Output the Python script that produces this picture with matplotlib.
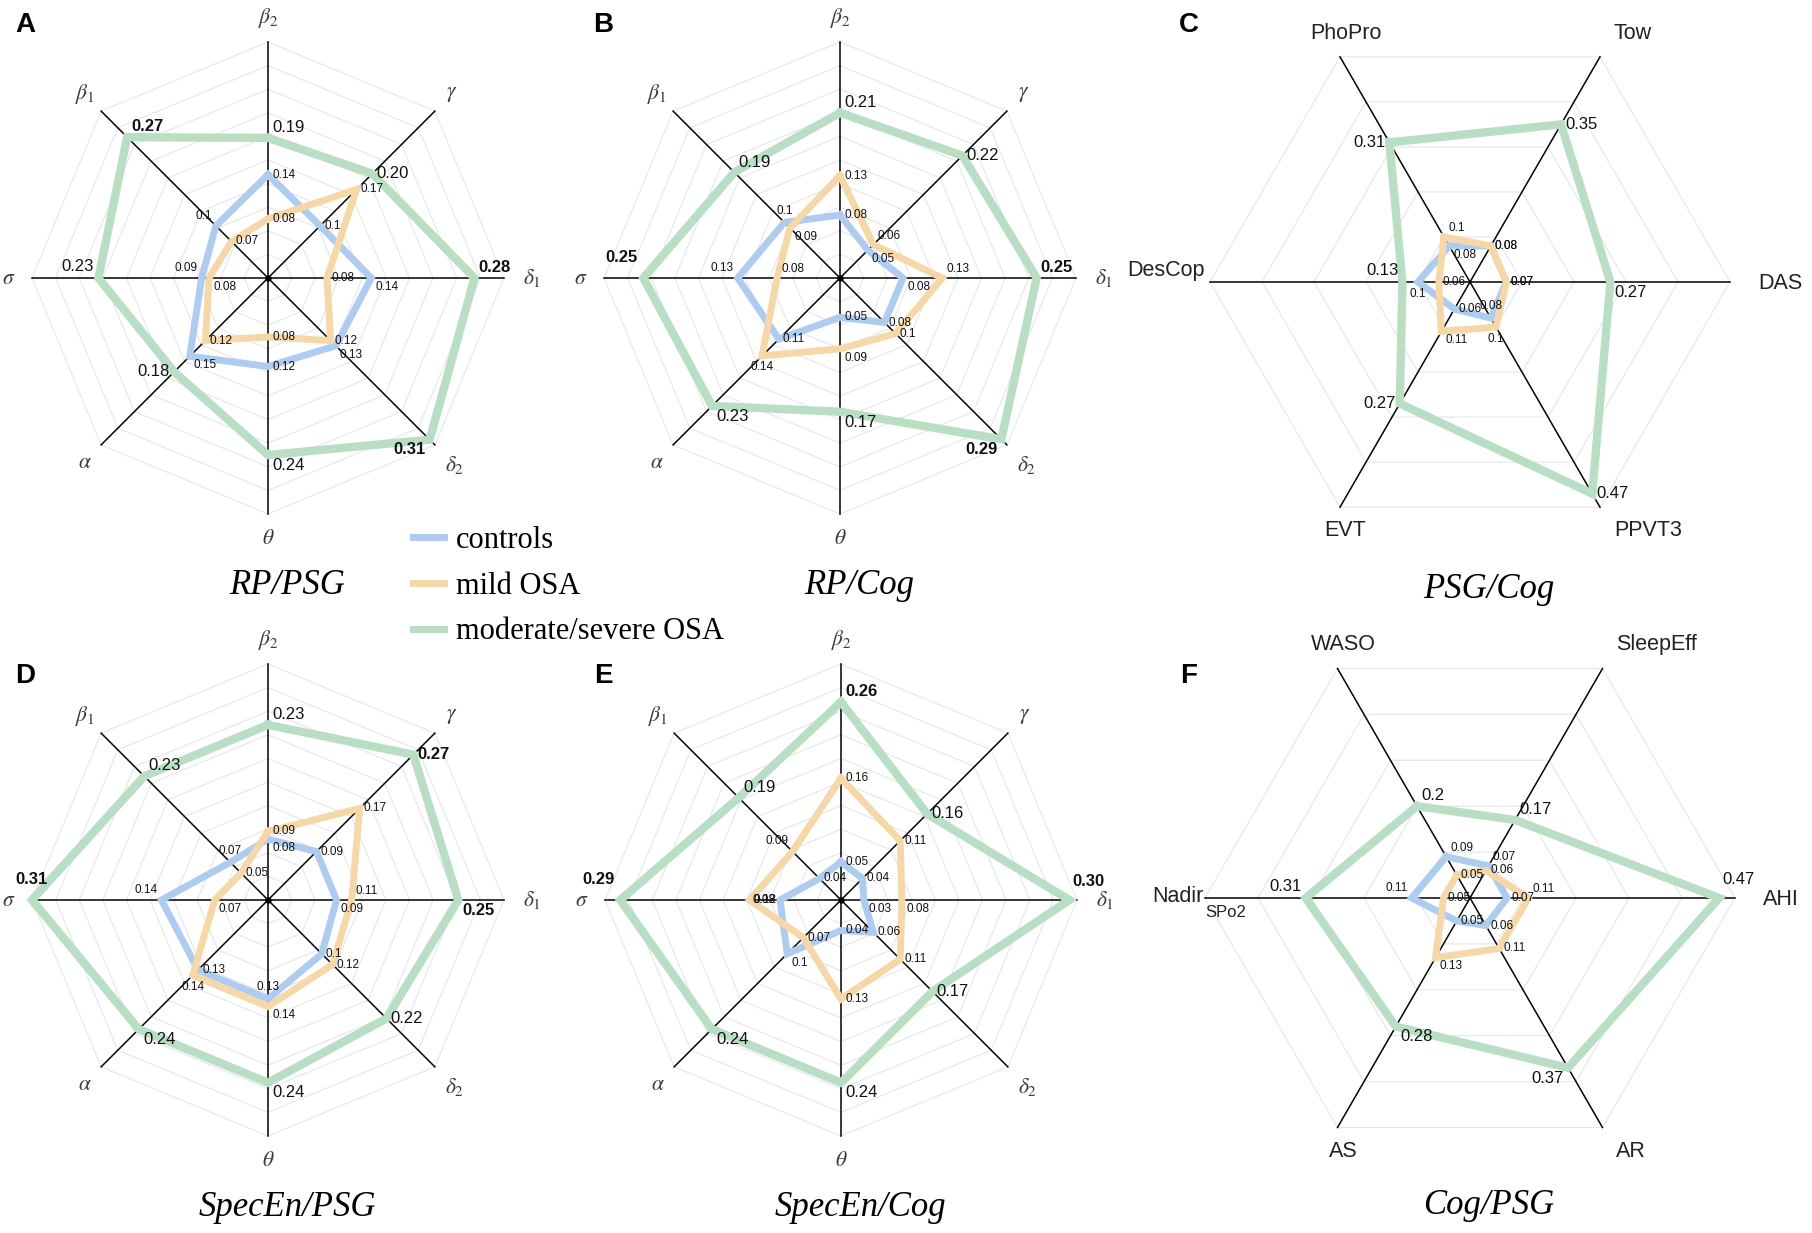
import numpy as np
import matplotlib.pyplot as plt
from matplotlib.lines import Line2D

plt.rcParams['mathtext.fontset'] = 'stix'

W, H = 1812, 1233

# axis names
bands = [r'$\beta_2$', r'$\gamma$', r'$\delta_1$', r'$\delta_2$',
         r'$\theta$', r'$\alpha$', r'$\sigma$', r'$\beta_1$']
psg_cog_names = ['PhoPro', 'Tow', 'DAS', 'PPVT3', 'EVT', 'DesCop']
cog_psg_names = ['WASO', 'SleepEff', 'AHI', 'AR', 'AS', 'Nadir']

groups = ['controls', 'mild OSA', 'moderate/severe OSA']
colors = ['#aecbf0', '#f5d7a8', '#b8dec3']

# A  RP/PSG
a_ctrl = [0.14, 0.10, 0.14, 0.13, 0.12, 0.15, 0.09, 0.10]
a_mild = [0.08, 0.17, 0.08, 0.12, 0.08, 0.12, 0.08, 0.07]
a_sev = [0.19, 0.20, 0.28, 0.31, 0.24, 0.18, 0.23, 0.27]
# B  RP/Cog
b_ctrl = [0.08, 0.05, 0.08, 0.08, 0.05, 0.11, 0.13, 0.10]
b_mild = [0.13, 0.06, 0.13, 0.10, 0.09, 0.14, 0.08, 0.09]
b_sev = [0.21, 0.22, 0.25, 0.29, 0.17, 0.23, 0.25, 0.19]
# C  PSG/Cog
c_ctrl = [0.08, 0.08, 0.07, 0.08, 0.06, 0.10]
c_mild = [0.10, 0.08, 0.07, 0.10, 0.11, 0.06]
c_sev = [0.31, 0.35, 0.27, 0.47, 0.27, 0.13]
# D  SpecEn/PSG
d_ctrl = [0.08, 0.09, 0.09, 0.10, 0.13, 0.13, 0.14, 0.07]
d_mild = [0.09, 0.17, 0.11, 0.12, 0.14, 0.14, 0.07, 0.05]
d_sev = [0.23, 0.27, 0.25, 0.22, 0.24, 0.24, 0.31, 0.23]
# E  SpecEn/Cog
e_ctrl = [0.05, 0.04, 0.03, 0.06, 0.04, 0.10, 0.08, 0.04]
e_mild = [0.16, 0.11, 0.08, 0.11, 0.13, 0.07, 0.12, 0.09]
e_sev = [0.26, 0.16, 0.30, 0.17, 0.24, 0.24, 0.29, 0.19]
# F  Cog/PSG
f_ctrl = [0.09, 0.07, 0.07, 0.06, 0.05, 0.11]
f_mild = [0.05, 0.06, 0.11, 0.11, 0.13, 0.05]
f_sev = [0.20, 0.17, 0.47, 0.37, 0.28, 0.31]

letters = ['A', 'B', 'C', 'D', 'E', 'F']
titles = ['RP/PSG', 'RP/Cog', 'PSG/Cog', 'SpecEn/PSG', 'SpecEn/Cog', 'Cog/PSG']

# where each value label sits relative to its vertex
a_pos = ['e e se se e se nw nw', 'e e e e e e se e', 'ne e ne sw se w nw ne']
b_pos = ['e se se e e e nw n', 'e ne ne e se s ne se', 'ne e ne sw se se NW ne']
c_pos = ['se e e n e s', 'ne e e s se e', 'w e se e w nw']
d_pos = ['se e se e n e nw n', 'e e ne e se s se e', 'ne e se e se se N ne']
e_pos = ['e e se e e se w e', 'e e se e e e e nw', 'ne e NE e se se NW ne']
f_pos = ['ne ne e e e nw', 'e e ne e se e', 'ne ne NE sw se nw']

OFF = {'e': (3, 0, 'left', 'center'), 'ne': (3, 2, 'left', 'bottom'),
       'se': (3, -2, 'left', 'top'), 'w': (-3, 0, 'right', 'center'),
       'nw': (-3, 3, 'right', 'bottom'), 'sw': (-3, -2, 'right', 'top'),
       'n': (0, 4, 'center', 'bottom'), 's': (0, -4, 'center', 'top'),
       'N': (0, 9, 'center', 'bottom'), 'NE': (2, 8, 'left', 'bottom'),
       'NW': (-4, 9, 'right', 'bottom')}

panels = [
    (bands, [a_ctrl, a_mild, a_sev], a_pos, 0.32, (268, 278, 236)),
    (bands, [b_ctrl, b_mild, b_sev], b_pos, 0.30, (840, 278, 236)),
    (psg_cog_names, [c_ctrl, c_mild, c_sev], c_pos, 0.50, (1470, 282, 260)),
    (bands, [d_ctrl, d_mild, d_sev], d_pos, 0.31, (268, 900, 236)),
    (bands, [e_ctrl, e_mild, e_sev], e_pos, 0.31, (841, 900, 236)),
    (cog_psg_names, [f_ctrl, f_mild, f_sev], f_pos, 0.50, (1470, 898, 265)),
]

fig = plt.figure(figsize=(W / 100, H / 100), dpi=100)

for k, (names, series, pos, rmax, (cx, cy, R)) in enumerate(panels):
    ax = fig.add_axes([(cx - R) / W, 1 - (cy + R) / H, 2 * R / W, 2 * R / H])
    ax.set_xlim(-rmax, rmax)
    ax.set_ylim(-rmax, rmax)
    ax.axis('off')

    n = len(names)
    start = 0 if n == 8 else -30
    ang = np.radians(start + 360 / n * np.arange(n))
    sx, sy = np.sin(ang), np.cos(ang)

    # grid polygons
    nring = 10 if n == 8 else 5
    for lev in np.linspace(rmax / nring, rmax, nring):
        ax.plot(np.append(sx, sx[0]) * lev, np.append(sy, sy[0]) * lev,
                color='#e6e6e6', lw=0.8, zorder=1, clip_on=False)
    for i in range(n):
        ax.plot([0, sx[i] * rmax], [0, sy[i] * rmax], color='black', lw=1.1,
                zorder=2, clip_on=False)
    if n == 8:
        ax.plot(0, 0, 'o', color='black', ms=3.5, zorder=6)

    for g, vals in enumerate(series):
        v = np.array(vals)
        ax.plot(np.append(sx * v, sx[0] * v[0]), np.append(sy * v, sy[0] * v[0]),
                color=colors[g], lw=6.0 if g == 2 else 5.0, solid_joinstyle='miter',
                zorder=3 + g, clip_on=False)
        codes = pos[g].split()
        for i, val in enumerate(vals):
            dx, dy, ha, va = OFF[codes[i]]
            if g == 2:
                txt = '%.2f' % val if n == 8 else '%g' % val
                fw = 'bold' if (n == 8 and val >= 0.25) else 'normal'
                fs = 12
            else:
                txt = '%g' % val
                fw = 'normal'
                fs = 8.5
            ax.annotate(txt, (sx[i] * val, sy[i] * val), xytext=(dx, dy),
                        textcoords='offset points', ha=ha, va=va, fontsize=fs,
                        fontweight=fw, family='Liberation Sans', color='#111111',
                        zorder=8)

    # axis names
    sans = dict(fontsize=15.5, family='Liberation Sans', color='#222222')
    for i, name in enumerate(names):
        end = (sx[i] * rmax, sy[i] * rmax)
        if n == 8:
            f = 1.12 if name.startswith(r'$\delta') else 1.1
            ax.text(sx[i] * rmax * f, sy[i] * rmax * f, name, ha='center',
                    va='center', fontsize=15.5, color='#3a3a3a')
        elif name == 'Nadir':
            ax.annotate('Nadir', end, xytext=(-1, 1), textcoords='offset points',
                        ha='right', va='center', **sans)
            ax.annotate('SPo2', end, xytext=(0, -5), textcoords='offset points',
                        ha='left', va='top', fontsize=12, family='Liberation Sans',
                        color='#222222')
        elif abs(sy[i]) < 1e-6:
            if sx[i] > 0:
                ax.annotate(name, end, xytext=(20, -1), textcoords='offset points',
                            ha='left', va='center', **sans)
            else:
                ax.annotate(name, end, xytext=(-4, 8), textcoords='offset points',
                            ha='right', va='center', **sans)
        else:
            dy = 17 if sy[i] > 0 else -17
            if sx[i] > 0:
                ax.annotate(name, end, xytext=(10, dy), textcoords='offset points',
                            ha='left', va='center', **sans)
            else:
                ax.annotate(name, end, xytext=(4, dy), textcoords='offset points',
                            ha='center', va='center', **sans)

    fig.text(cx / W + 19 / W, 1 - (cy + 308) / H, titles[k], ha='center', va='center',
             fontsize=25, style='italic', family='Liberation Serif')

letter_xy = [(25, 25), (603, 25), (1189, 25), (25, 676), (603, 676), (1189, 676)]
for (lx, ly), let in zip(letter_xy, letters):
    fig.text(lx / W, 1 - ly / H, let, ha='center', va='center', fontsize=20,
             fontweight='bold', family='Liberation Sans')

handles = [Line2D([], [], color=c, lw=5) for c in colors]
fig.legend(handles, groups, loc='center left', bbox_to_anchor=(413 / W, 1 - 586 / H),
           frameon=False, prop={'family': 'Liberation Serif', 'size': 22},
           handlelength=1.0, handletextpad=0.4, labelspacing=0.55,
           borderpad=0, borderaxespad=0)

fig.savefig('out.png', dpi=100)
